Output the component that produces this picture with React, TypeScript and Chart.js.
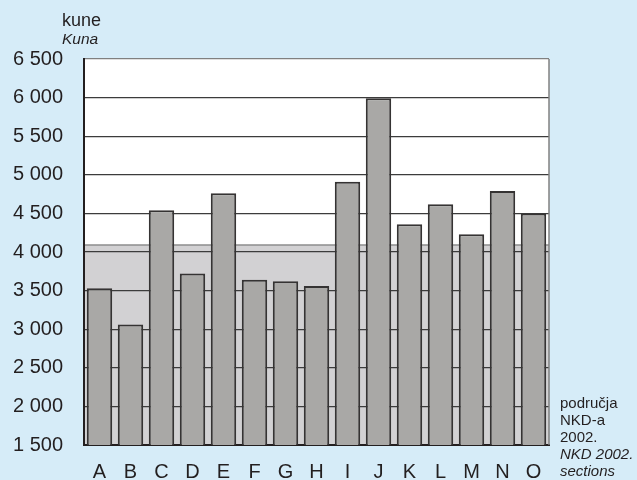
import React, { useEffect, useRef } from "react";
import { Chart, registerables } from "chart.js";

Chart.register(...registerables);

const categories = ["A", "B", "C", "D", "E", "F", "G", "H", "I", "J", "K", "L", "M", "N", "O"];
const wages = [3530, 3060, 4540, 3720, 4760, 3640, 3620, 3560, 4910, 5990, 4360, 4620, 4230, 4790, 4500];
const averageWage = 4090;
const yMin = 1500;
const yMax = 6500;
const yStep = 500;
const unitLabel = "kune";
const unitLabelEn = "Kuna";
const axisNote = ["područja", "NKD-a", "2002."];
const axisNoteEn = ["NKD 2002.", "sections"];

const FONT = "'Liberation Sans', Arial, sans-serif";
const BG = "#d6ecf8";
const TEXT = "#231f20";

const decorPlugin = {
  id: "decor",
  beforeDraw(chart: any) {
    const { ctx, chartArea, scales } = chart;
    const y = scales.y;
    ctx.save();
    ctx.fillStyle = BG;
    ctx.fillRect(0, 0, chart.width, chart.height);
    ctx.fillStyle = "#ffffff";
    ctx.fillRect(chartArea.left, chartArea.top, chartArea.right - chartArea.left, chartArea.bottom - chartArea.top);
    const yTop = y.getPixelForValue(averageWage);
    const yBot = y.getPixelForValue(yMin);
    ctx.fillStyle = "#d2d1d3";
    ctx.fillRect(chartArea.left, yTop, chartArea.right - chartArea.left, yBot - yTop);
    ctx.strokeStyle = "#8c8c8c";
    ctx.lineWidth = 1.5;
    ctx.beginPath();
    ctx.moveTo(chartArea.left, yTop);
    ctx.lineTo(chartArea.right, yTop);
    ctx.stroke();
    ctx.restore();
  },
  afterDraw(chart: any) {
    const { ctx, chartArea } = chart;
    ctx.save();
    ctx.strokeStyle = "#808080";
    ctx.lineWidth = 1.5;
    ctx.beginPath();
    ctx.moveTo(chartArea.right, chartArea.top);
    ctx.lineTo(chartArea.right, chartArea.bottom);
    ctx.stroke();
    ctx.fillStyle = TEXT;
    ctx.textAlign = "left";
    ctx.textBaseline = "middle";
    ctx.font = `18px ${FONT}`;
    ctx.fillText(unitLabel, 62, 21);
    ctx.font = `italic 15.5px ${FONT}`;
    ctx.fillText(unitLabelEn, 62, 40);
    ctx.font = `15px ${FONT}`;
    let ly = 404;
    axisNote.forEach((t) => {
      ctx.fillText(t, 560, ly);
      ly += 17;
    });
    ctx.font = `italic 15px ${FONT}`;
    axisNoteEn.forEach((t) => {
      ctx.fillText(t, 560, ly);
      ly += 17;
    });
    ctx.restore();
  },
};

export default function App() {
  const ref = useRef<HTMLCanvasElement | null>(null);
  useEffect(() => {
    document.body.style.margin = "0";
    const chart = new Chart(ref.current as HTMLCanvasElement, {
      type: "bar",
      data: {
        labels: categories,
        datasets: [
          {
            data: wages,
            backgroundColor: "#a9a8a6",
            borderColor: "#353333",
            borderWidth: 2,
            borderSkipped: false,
            barPercentage: 0.82,
            categoryPercentage: 1,
          },
        ],
      },
      options: {
        animation: false,
        responsive: false,
        layout: { padding: { left: 0, top: 59, right: 88, bottom: 0 } },
        plugins: { legend: { display: false }, tooltip: { enabled: false } },
        scales: {
          x: {
            grid: { display: false, drawTicks: false },
            border: { display: true, color: "#231f20", width: 2 },
            ticks: { color: TEXT, font: { family: FONT, size: 20 }, padding: 15, maxRotation: 0 },
            afterFit: (s: any) => {
              s.height = 35;
            },
          },
          y: {
            min: yMin,
            max: yMax,
            ticks: {
              stepSize: yStep,
              color: TEXT,
              padding: 21,
              font: { family: FONT, size: 20 },
              callback: (v: any) => {
                const n = Number(v);
                const s = String(n);
                return s.length > 3 ? s.slice(0, s.length - 3) + " " + s.slice(-3) : s;
              },
            },
            grid: {
              drawTicks: false,
              color: (c: any) => (c.tick && c.tick.value === yMax ? "#808080" : "#3c3c3c"),
              lineWidth: 1.2,
            },
            border: { display: true, color: "#231f20", width: 2 },
            afterFit: (s: any) => {
              s.width = 84;
            },
          },
        },
      },
      plugins: [decorPlugin],
    });
    return () => chart.destroy();
  }, []);
  return (
    <div style={{ width: 637, height: 480, background: BG }}>
      <canvas ref={ref} width={637} height={480} />
    </div>
  );
}
